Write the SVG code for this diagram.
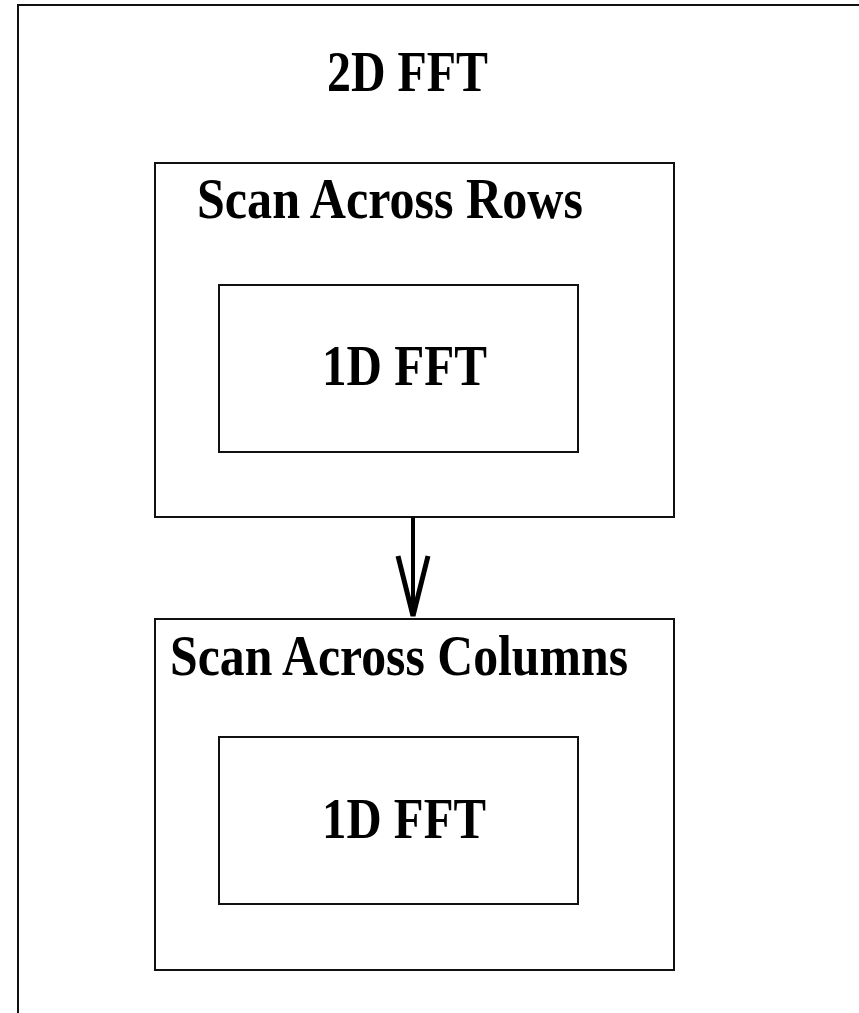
<svg xmlns="http://www.w3.org/2000/svg" width="859" height="1013" viewBox="0 0 859 1013">
<style>
.box{fill:none;stroke:#111;stroke-width:2}
.t{font-family:"Liberation Serif","Times New Roman",serif;font-weight:bold;fill:#000;font-size:50px}
.arr{fill:none;stroke:#000;stroke-width:5;stroke-linecap:butt;stroke-linejoin:miter}
</style>
<rect width="859" height="1013" fill="#fff"/>
<g id="frame">
<path class="box" d="M18,1013 V5 H859"/>
<text class="t" transform="translate(327,91) scale(1,1.15)" textLength="161" lengthAdjust="spacingAndGlyphs">2D FFT</text>
</g>
<g id="rows">
<rect class="box" x="155" y="163" width="519" height="354"/>
<text class="t" transform="translate(197,218) scale(1,1.15)" textLength="386" lengthAdjust="spacingAndGlyphs">Scan Across Rows</text>
</g>
<g id="fft1">
<rect class="box" x="219" y="285" width="359" height="167"/>
<text class="t" transform="translate(322,385) scale(1,1.15)" textLength="165" lengthAdjust="spacingAndGlyphs">1D FFT</text>
</g>
<g id="cols">
<rect class="box" x="155" y="619" width="519" height="351"/>
<text class="t" transform="translate(170,675) scale(1,1.15)" textLength="458" lengthAdjust="spacingAndGlyphs">Scan Across Columns</text>
</g>
<g id="fft2">
<rect class="box" x="219" y="737" width="359" height="167"/>
<text class="t" transform="translate(322,838) scale(1,1.15)" textLength="164" lengthAdjust="spacingAndGlyphs">1D FFT</text>
</g>
<g id="connectors">
<line x1="413" y1="517" x2="413" y2="615" stroke="#000" stroke-width="4"/>
<polyline class="arr" points="398,556 413,616 428,556"/>
</g>
</svg>
